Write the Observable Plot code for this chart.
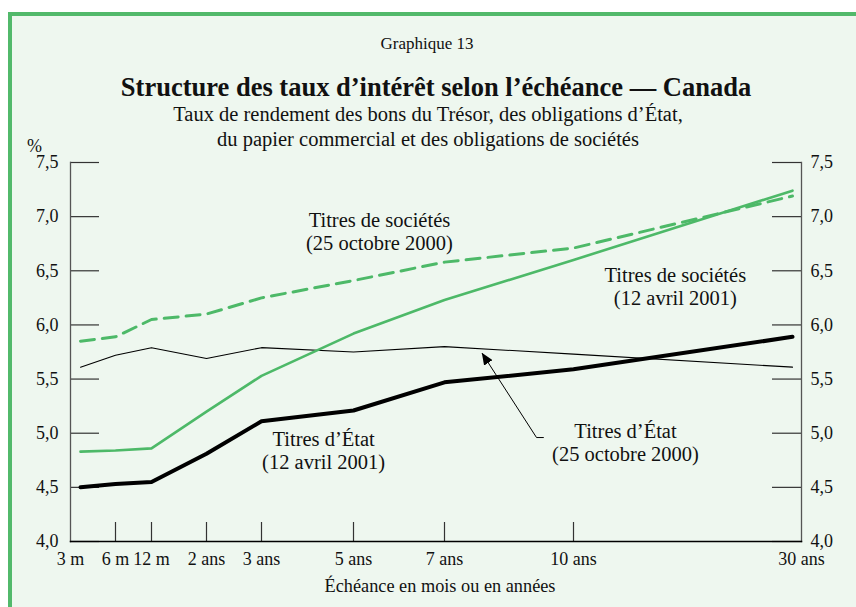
<!DOCTYPE html>
<html><head><meta charset="utf-8">
<script src="https://cdn.jsdelivr.net/npm/d3@7"></script>
<script src="https://cdn.jsdelivr.net/npm/@observablehq/plot@0.6"></script>
<style>
body{margin:0;background:#fff;font-family:"Liberation Serif","Times New Roman",serif;color:#111;}
#wrap{position:relative;width:856px;height:607px;overflow:hidden;}
#panel{position:absolute;left:8px;top:12px;width:870px;height:620px;border-top:4px solid #52b96b;border-left:4px solid #52b96b;background:#eef7ef;}
.t{position:absolute;left:0;width:856px;text-align:center;white-space:nowrap;font-size:17px;line-height:20px;}
#chart{position:absolute;left:0;top:0;}
</style></head>
<body>
<div id="wrap">
  <div id="panel"></div>
  <div id="chart"></div>
  <div class="t" style="top:34px;left:-1px">Graphique 13</div>
  <div class="t" style="top:72px;left:8px;font-size:26.5px;line-height:30px;font-weight:bold">Structure des taux d’intérêt selon l’échéance — Canada</div>
  <div class="t" style="top:102px;font-size:20.5px;line-height:24px">Taux de rendement des bons du Trésor, des obligations d’État,</div>
  <div class="t" style="top:127px;font-size:20.5px;line-height:24px">du papier commercial et des obligations de sociétés</div>
  <div class="t" style="top:136px;left:27px;width:auto;text-align:left;font-size:18px">%</div>
  <div class="t" style="top:575px;left:12px;font-size:18.3px;line-height:22px">Échéance en mois ou en années</div>
</div>
<script>
const maturityLabels = ["3 m","6 m","12 m","2 ans","3 ans","5 ans","7 ans","10 ans","30 ans"];
const maturityYears = [0.25,0.5,1,2,3,5,7,10,30];
const corpOct2000 = [5.85,5.89,6.05,6.10,6.25,6.41,6.58,6.71,7.19];
const corpApr2001 = [4.83,4.84,4.86,5.20,5.53,5.92,6.23,6.60,7.24];
const govApr2001  = [4.50,4.53,4.55,4.81,5.11,5.21,5.47,5.59,5.89];
const govOct2000  = [5.61,5.72,5.79,5.69,5.79,5.75,5.80,5.73,5.61];
const yTicks = [4.0,4.5,5.0,5.5,6.0,6.5,7.0,7.5];

const annotationText = ["Titres de sociétés\n(25 octobre 2000)","Titres de sociétés\n(12 avril 2001)","Titres d’État\n(12 avril 2001)","Titres d’État\n(25 octobre 2000)"];
const annotationYears = [5.57, 19.3, 4.35, 14.75];
const annotationRates = [6.87, 6.36, 4.845, 4.92];

const arrowYears = [9.30, 9.14, 7.88];
const arrowRates = [4.96, 4.96, 5.735];

const GREEN = "#4db968";
const rows = (vals) => vals.map((v,i)=>({years: maturityYears[i], rate: v}));
const xTickTable = maturityLabels.map((label,i)=>({label, years: maturityYears[i]}));
const innerTicks = xTickTable.slice(1, -1);
const annTable = annotationText.map((text,i)=>({text, years: annotationYears[i], rate: annotationRates[i]}));
const arrowTable = arrowYears.map((y,i)=>({years: y, rate: arrowRates[i]}));
const fmt = d => d.toFixed(1).replace(".", ",");

const W = 856, H = 607, mL = 70, mR = 55, mT = 162, mB = 66;
const frameW = W - mL - mR, frameH = H - mT - mB;

const svg = Plot.plot({
  width: W, height: H,
  marginLeft: mL, marginRight: mR, marginTop: mT, marginBottom: mB,
  style: {background: "transparent", fontFamily: "Liberation Serif, Times New Roman, serif", fontSize: "18px", color: "#111"},
  x: {type: "linear", domain: maturityYears, range: [80,115,151,206,261,353,444,573,792], axis: null},
  y: {domain: [4, 7.5], axis: null},
  marks: [
    Plot.ruleY(yTicks, {insetRight: frameW - 29, stroke: "#333", strokeWidth: 1.2}),
    Plot.ruleY(yTicks, {insetLeft: frameW - 29, stroke: "#333", strokeWidth: 1.2}),
    Plot.ruleX(innerTicks, {x: "years", insetTop: frameH - 19, stroke: "#333", strokeWidth: 1.2}),
    Plot.frame({anchor: "left", stroke: "#555", strokeWidth: 1.3}),
    Plot.frame({anchor: "right", stroke: "#555", strokeWidth: 1.3}),
    Plot.frame({anchor: "bottom", stroke: "#000", strokeWidth: 1.5}),
    Plot.axisY({anchor: "left", ticks: yTicks, tickFormat: fmt, tickSize: 0, tickPadding: 12, label: null, fontSize: 18}),
    Plot.axisY({anchor: "right", ticks: yTicks, tickFormat: fmt, tickSize: 0, tickPadding: 9, label: null, fontSize: 18}),
    Plot.text(innerTicks, {x: "years", text: "label", frameAnchor: "bottom", dy: 18, lineAnchor: "middle", fontSize: 18}),
    Plot.text([maturityLabels[0]], {text: d => d, frameAnchor: "bottom-left", dy: 18, textAnchor: "middle", lineAnchor: "middle", fontSize: 18}),
    Plot.text([maturityLabels[maturityLabels.length-1]], {text: d => d, frameAnchor: "bottom-right", dy: 18, textAnchor: "middle", lineAnchor: "middle", fontSize: 18}),
    Plot.line(rows(govOct2000), {x: "years", y: "rate", stroke: "#000", strokeWidth: 1.1}),
    Plot.line(rows(corpOct2000), {x: "years", y: "rate", stroke: GREEN, strokeWidth: 3, strokeDasharray: "14,8"}),
    Plot.line(rows(corpApr2001), {x: "years", y: "rate", stroke: GREEN, strokeWidth: 2.6}),
    Plot.line(rows(govApr2001), {x: "years", y: "rate", stroke: "#000", strokeWidth: 4}),
    Plot.line(arrowTable, {x: "years", y: "rate", stroke: "#000", strokeWidth: 1, className: "leader"}),
    Plot.text(annTable, {x: "years", y: "rate", text: "text", lineHeight: 1.12, lineAnchor: "middle", fontSize: 20.5, fill: "#111"})
  ]
});

const s = d3.select(svg);
s.append("defs").append("marker")
  .attr("id", "ahead").attr("viewBox", "0 0 12 10").attr("refX", 11).attr("refY", 5)
  .attr("markerWidth", 12).attr("markerHeight", 10).attr("markerUnits", "userSpaceOnUse").attr("orient", "auto")
  .append("path").attr("d", "M0,0L12,5L0,10Z").attr("fill", "#000");
s.selectAll(".leader path").attr("marker-end", "url(#ahead)");

document.getElementById("chart").appendChild(svg);
</script>
</body></html>
